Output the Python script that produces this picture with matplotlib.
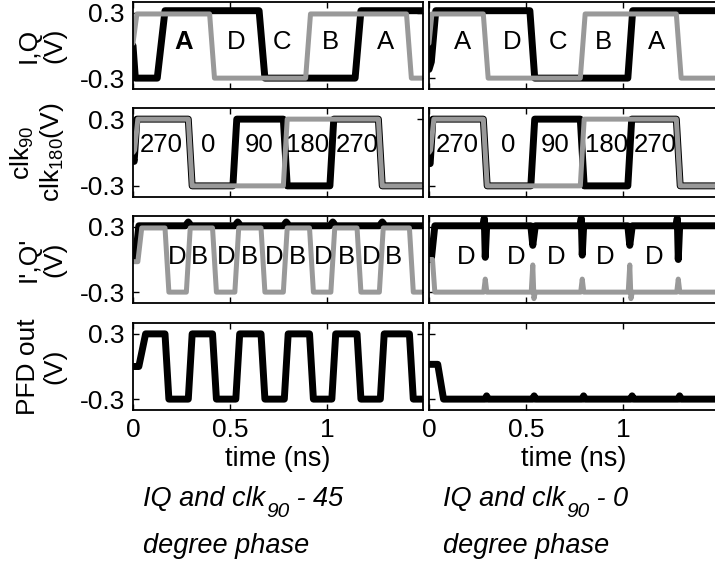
import matplotlib
matplotlib.use("Agg")
import matplotlib.pyplot as plt

plt.rcParams['font.family'] = ['Liberation Sans', 'DejaVu Sans']
plt.rcParams['mathtext.fontset'] = 'custom'
plt.rcParams['mathtext.rm'] = 'Liberation Sans'
plt.rcParams['mathtext.it'] = 'Liberation Sans:italic'
plt.rcParams['axes.unicode_minus'] = False

# ---- waveforms: breakpoints (time in ns, volts) ----
# row 1: I (black) and Q (gray)
i_l_t = [0, 0.012, 0.125, 0.165, 0.65, 0.68, 1.145, 1.175, 1.5]
i_l_v = [0.0, -0.3, -0.3, 0.32, 0.32, -0.3, -0.3, 0.32, 0.32]
q_l_t = [0, 0.02, 0.395, 0.42, 0.89, 0.915, 1.41, 1.435, 1.5]
q_l_v = [0.02, 0.29, 0.29, -0.3, -0.3, 0.29, 0.29, -0.3, -0.3]
i_r_t = [0, 0.012, 0.035, 0.52, 0.545, 1.025, 1.05, 1.5]
i_r_v = [-0.22, -0.15, 0.32, 0.32, -0.3, -0.3, 0.32, 0.32]
q_r_t = [0, 0.015, 0.28, 0.305, 0.78, 0.805, 1.275, 1.30, 1.5]
q_r_v = [0.02, 0.29, 0.29, -0.3, -0.3, 0.29, 0.29, -0.3, -0.3]

# row 2: clk90 (black) and clk180 (gray)
c90_l_t = [0, 0.006, 0.02, 0.285, 0.305, 0.515, 0.535, 0.775, 0.795, 1.015, 1.035, 1.265, 1.285, 1.5]
c90_l_v = [-0.05, -0.08, 0.3, 0.3, -0.3, -0.3, 0.3, 0.3, -0.3, -0.3, 0.3, 0.3, -0.3, -0.3]
c180_l_t = [0, 0.008, 0.025, 0.285, 0.305, 0.775, 0.795, 1.265, 1.285, 1.5]
c180_l_v = [0.0, 0.02, 0.3, 0.3, -0.3, -0.3, 0.3, 0.3, -0.3, -0.3]
c90_r_t = [0, 0.006, 0.02, 0.28, 0.30, 0.525, 0.545, 0.78, 0.80, 1.025, 1.045, 1.275, 1.295, 1.5]
c90_r_v = [-0.1, -0.1, 0.3, 0.3, -0.3, -0.3, 0.3, 0.3, -0.3, -0.3, 0.3, 0.3, -0.3, -0.3]
c180_r_t = [0, 0.008, 0.025, 0.28, 0.30, 0.78, 0.80, 1.275, 1.295, 1.5]
c180_r_v = [0.0, 0.02, 0.3, 0.3, -0.3, -0.3, 0.3, 0.3, -0.3, -0.3]

# row 3: I' (black) and Q' (gray)
ip_l_t = [0, 0.012, 0.03, 0.27, 0.285, 0.30, 0.525, 0.54, 0.555, 0.775, 0.79, 0.805,
          1.015, 1.03, 1.045, 1.27, 1.285, 1.30, 1.5]
ip_l_v = [0.0, 0.0, 0.31, 0.31, 0.345, 0.31, 0.31, 0.345, 0.31, 0.31, 0.345, 0.31,
          0.31, 0.345, 0.31, 0.31, 0.345, 0.31, 0.31]
qp_l_t = [0, 0.025, 0.045, 0.165, 0.185, 0.275, 0.295, 0.41, 0.43, 0.525, 0.545, 0.66, 0.68,
          0.775, 0.795, 0.91, 0.93, 1.02, 1.04, 1.155, 1.175, 1.27, 1.29, 1.425, 1.445, 1.5]
qp_l_v = [-0.02, -0.02, 0.29, 0.29, -0.3, -0.3, 0.29, 0.29, -0.3, -0.3, 0.29, 0.29, -0.3,
          -0.3, 0.29, 0.29, -0.3, -0.3, 0.29, 0.29, -0.3, -0.3, 0.29, 0.29, -0.3, -0.3]
ip_r_t = [0, 0.012, 0.03, 0.278, 0.285, 0.29, 0.297, 0.305, 0.525, 0.535, 0.548,
          0.778, 0.785, 0.79, 0.797, 0.805, 1.025, 1.035, 1.048,
          1.273, 1.28, 1.285, 1.292, 1.30, 1.5]
ip_r_v = [0.0, 0.0, 0.31, 0.31, 0.38, 0.02, 0.3, 0.31, 0.31, 0.13, 0.31,
          0.31, 0.38, 0.04, 0.3, 0.31, 0.31, 0.13, 0.31,
          0.31, 0.38, 0.0, 0.3, 0.31, 0.31]
qp_r_t = [0, 0.018, 0.03, 0.282, 0.29, 0.298, 0.527, 0.535, 0.541, 0.548,
          0.782, 0.79, 0.798, 1.027, 1.035, 1.041, 1.048, 1.277, 1.285, 1.293, 1.5]
qp_r_v = [0.0, 0.0, -0.3, -0.3, -0.18, -0.3, -0.3, -0.05, -0.36, -0.3,
          -0.3, -0.18, -0.3, -0.3, -0.05, -0.36, -0.3, -0.3, -0.18, -0.3, -0.3]

# row 4: PFD out
pfd_l_t = [0, 0.03, 0.065, 0.165, 0.185, 0.285, 0.305, 0.41, 0.43, 0.53, 0.55, 0.66, 0.68,
           0.78, 0.80, 0.91, 0.93, 1.025, 1.045, 1.155, 1.175, 1.275, 1.295, 1.425, 1.445, 1.5]
pfd_l_v = [0.0, 0.0, 0.3, 0.3, -0.3, -0.3, 0.3, 0.3, -0.3, -0.3, 0.3, 0.3, -0.3,
           -0.3, 0.3, 0.3, -0.3, -0.3, 0.3, 0.3, -0.3, -0.3, 0.3, 0.3, -0.3, -0.3]
pfd_r_t = [0, 0.045, 0.075, 0.29, 0.297, 0.304, 0.535, 0.542, 0.549, 0.79, 0.797, 0.804,
           1.04, 1.047, 1.054, 1.285, 1.292, 1.299, 1.5]
pfd_r_v = [0.02, 0.02, -0.3, -0.3, -0.27, -0.3, -0.3, -0.27, -0.3, -0.3, -0.27, -0.3,
           -0.3, -0.27, -0.3, -0.3, -0.27, -0.3, -0.3]

# ---- labels inside the panels ----
iq_names = ['A', 'D', 'C', 'B', 'A']
iq_l_x = [0.26, 0.53, 0.77, 1.02, 1.30]
iq_r_x = [0.175, 0.43, 0.665, 0.90, 1.175]
clk_names = ['270', '0', '90', '180', '270']
clk_l_x = [0.145, 0.39, 0.65, 0.90, 1.155]
clk_r_x = [0.145, 0.41, 0.65, 0.915, 1.165]
iqp_l_names = ['D', 'B', 'D', 'B', 'D', 'B', 'D', 'B', 'D', 'B']
iqp_l_x = [0.23, 0.34, 0.48, 0.60, 0.73, 0.85, 0.98, 1.10, 1.23, 1.345]
iqp_r_names = ['D', 'D', 'D', 'D', 'D']
iqp_r_x = [0.19, 0.45, 0.655, 0.91, 1.16]

ylabels = ['I,Q\n(V)', 'clk$_{\\mathrm{90}}$\nclk$_{\\mathrm{180}}$(V)', "I',Q'\n(V)", 'PFD out\n(V)']
cap_phase = ['45', '0']

GRAY = '#999999'
W, H = 715, 574
fig = plt.figure(figsize=(W / 100, H / 100), dpi=100)

rows_px = [(2, 89), (108, 197), (216, 303), (323, 410)]
cols_px = [133, 429]
axw = 290

axes = []
for r, (top, bot) in enumerate(rows_px):
    row = []
    for c, left in enumerate(cols_px):
        ax = fig.add_axes([left / W, 1 - bot / H, axw / W, (bot - top) / H])
        ax.set_xlim(0, 1.495)
        ax.set_ylim(-0.4, 0.4)
        ax.set_xticks([0, 0.5, 1])
        ax.set_yticks([-0.3, 0.3])
        ax.tick_params(direction='in', length=4, width=1, top=True, right=(c == 0),
                       labelsize=19, pad=6)
        for s in ax.spines.values():
            s.set_linewidth(1.3)
        if r < 3:
            ax.set_xticklabels([])
        else:
            ax.set_xticklabels(['0', '0.5', '1'])
            ax.set_xlabel('time (ns)', fontsize=19.5, labelpad=3)
        if c == 1:
            ax.set_yticklabels([])
        else:
            ax.set_yticklabels(['-0.3', '0.3'])
            ax.set_ylabel(ylabels[r], fontsize=19, linespacing=1.1)
            ax.yaxis.set_label_coords(-0.23, 0.5)
        row.append(ax)
    axes.append(row)

lw_k, lw_g = 5.0, 3.6
kw_k = dict(color='black', lw=lw_k, solid_joinstyle='round', solid_capstyle='round')
kw_g = dict(color=GRAY, lw=lw_g, solid_joinstyle='round', solid_capstyle='round')

axes[0][0].plot(i_l_t, i_l_v, **kw_k)
axes[0][0].plot(q_l_t, q_l_v, **kw_g)
axes[0][1].plot(i_r_t, i_r_v, **kw_k)
axes[0][1].plot(q_r_t, q_r_v, **kw_g)
axes[1][0].plot(c90_l_t, c90_l_v, **kw_k)
axes[1][0].plot(c180_l_t, c180_l_v, **kw_g)
axes[1][1].plot(c90_r_t, c90_r_v, **kw_k)
axes[1][1].plot(c180_r_t, c180_r_v, **kw_g)
axes[2][0].plot(ip_l_t, ip_l_v, **kw_k)
axes[2][0].plot(qp_l_t, qp_l_v, **kw_g)
axes[2][1].plot(ip_r_t, ip_r_v, **kw_k)
axes[2][1].plot(qp_r_t, qp_r_v, **kw_g)
axes[3][0].plot(pfd_l_t, pfd_l_v, **kw_k)
axes[3][1].plot(pfd_r_t, pfd_r_v, **kw_k)

fs_in = 18.5
for k, (name, x) in enumerate(zip(iq_names, iq_l_x)):
    axes[0][0].text(x, 0.03, name, fontsize=fs_in, ha='center', va='center',
                    fontweight='bold' if k == 0 else 'normal')
for name, x in zip(iq_names, iq_r_x):
    axes[0][1].text(x, 0.03, name, fontsize=fs_in, ha='center', va='center')
for name, x in zip(clk_names, clk_l_x):
    axes[1][0].text(x, 0.07, name, fontsize=fs_in, ha='center', va='center')
for name, x in zip(clk_names, clk_r_x):
    axes[1][1].text(x, 0.07, name, fontsize=fs_in, ha='center', va='center')
for name, x in zip(iqp_l_names, iqp_l_x):
    axes[2][0].text(x, 0.02, name, fontsize=fs_in, ha='center', va='center')
for name, x in zip(iqp_r_names, iqp_r_x):
    axes[2][1].text(x, 0.02, name, fontsize=fs_in, ha='center', va='center')

# captions under each column: italic, with a low-set subscript
yb = 1 - 506 / H
yb2 = 1 - 553 / H
for ph, x0 in zip(cap_phase, [143, 443]):
    t1 = fig.text(x0 / W, yb, 'IQ and clk', fontsize=19.5, style='italic', va='baseline')
    sub = plt.annotate('90', xy=(1, yb), xycoords=(t1, 'figure fraction'),
                       xytext=(0.5, -8), textcoords='offset points',
                       fontsize=15, style='italic', va='baseline', ha='left')
    plt.annotate(' - ' + ph, xy=(1, yb), xycoords=(sub, 'figure fraction'),
                 fontsize=19.5, style='italic', va='baseline', ha='left')
    fig.text(x0 / W, yb2, 'degree phase', fontsize=19.5, style='italic', va='baseline')

fig.savefig('out.png', dpi=100)
